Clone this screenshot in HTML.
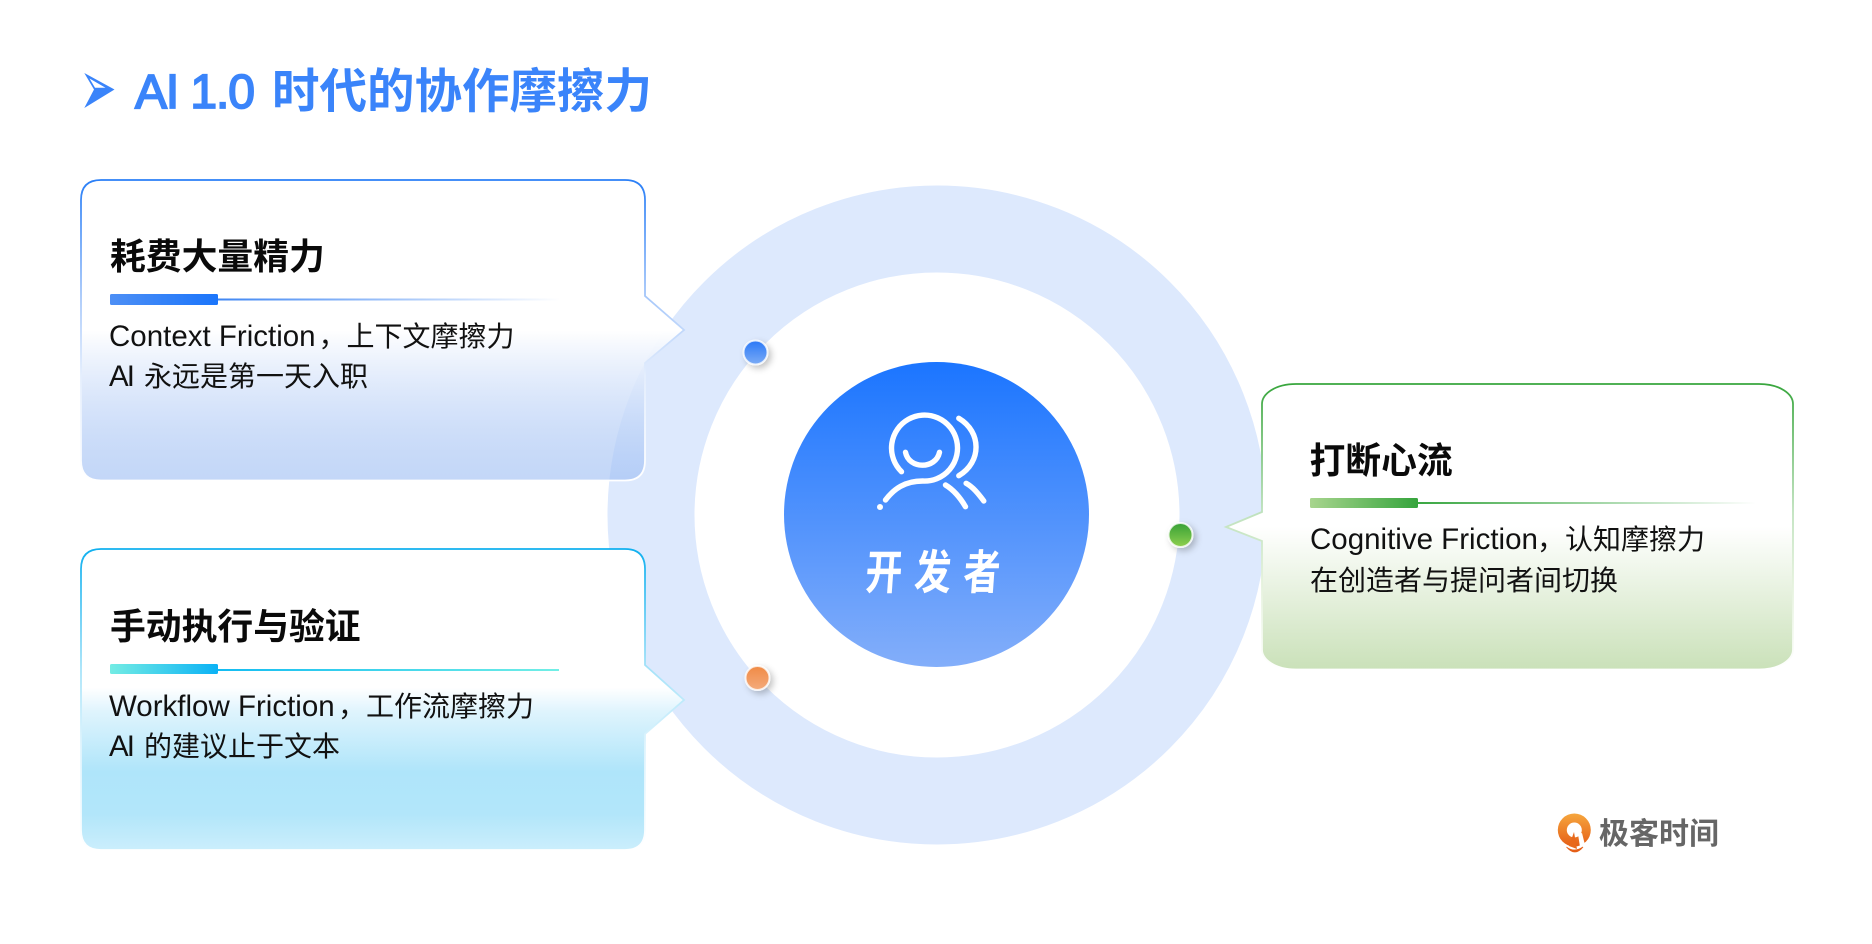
<!DOCTYPE html>
<html><head><meta charset="utf-8"><style>
html,body{margin:0;padding:0;background:#fff;width:1872px;height:944px;overflow:hidden}
svg{display:block}
text{white-space:pre}
.t{font-family:"Noto Sans CJK SC",sans-serif;font-weight:700;font-size:35.8px;fill:#0a0a0a}
.b{font-family:"Noto Sans CJK SC",sans-serif;font-size:28px;fill:#111}
.l{font-family:"Liberation Sans",sans-serif;font-size:29.5px;fill:#111}
</style></head><body>
<svg width="1872" height="944" viewBox="0 0 1872 944" xmlns="http://www.w3.org/2000/svg">
<defs>
<linearGradient id="f1" x1="0" y1="0" x2="0" y2="1"><stop offset="0.5" stop-color="#fff"/><stop offset="1" stop-color="#9bbcf3" stop-opacity=".6"/></linearGradient>
<linearGradient id="f2" x1="0" y1="0" x2="0" y2="1"><stop offset="0.46" stop-color="#fff"/><stop offset="0.54" stop-color="#dff4fd"/><stop offset="0.74" stop-color="#afe5fa"/><stop offset="0.88" stop-color="#b2e6fa"/><stop offset="1" stop-color="#cbeefc"/></linearGradient>
<linearGradient id="f3" x1="0" y1="0" x2="0" y2="1"><stop offset="0.5" stop-color="#fff"/><stop offset="1" stop-color="#cae1b9"/></linearGradient>
<linearGradient id="s1" x1="0" y1="0" x2="0" y2="1"><stop offset="0" stop-color="#2a7ff7"/><stop offset="0.4" stop-color="#a9c9fa"/><stop offset="0.65" stop-color="#e4eefd"/><stop offset="1" stop-color="#fff"/></linearGradient>
<linearGradient id="s2" x1="0" y1="0" x2="0" y2="1"><stop offset="0" stop-color="#10b0ef"/><stop offset="0.4" stop-color="#a6e3f9"/><stop offset="0.65" stop-color="#dff4fd"/><stop offset="1" stop-color="#fff"/></linearGradient>
<linearGradient id="s3" x1="0" y1="0" x2="0" y2="1"><stop offset="0" stop-color="#38a63d"/><stop offset="0.45" stop-color="#bfe2bd"/><stop offset="0.7" stop-color="#e5f2dd"/><stop offset="1" stop-color="#fff"/></linearGradient>
<linearGradient id="c" x1="0" y1="0" x2="0" y2="1"><stop offset="0" stop-color="#1b75ff"/><stop offset="1" stop-color="#83aefa"/></linearGradient>
<linearGradient id="b1" x1="0" y1="0" x2="1" y2="0"><stop offset="0" stop-color="#4d8ff5"/><stop offset="1" stop-color="#1b75fb"/></linearGradient>
<linearGradient id="l1" x1="0" y1="0" x2="1" y2="0"><stop offset="0" stop-color="#3f86f3"/><stop offset="1" stop-color="#3f86f3" stop-opacity="0"/></linearGradient>
<linearGradient id="b2" x1="0" y1="0" x2="1" y2="0"><stop offset="0" stop-color="#73ece4"/><stop offset="1" stop-color="#0bb2f5"/></linearGradient>
<linearGradient id="l2" x1="0" y1="0" x2="1" y2="0"><stop offset="0" stop-color="#13bcf2"/><stop offset="1" stop-color="#72efe6"/></linearGradient>
<linearGradient id="b3" x1="0" y1="0" x2="1" y2="0"><stop offset="0" stop-color="#a8d58e"/><stop offset="1" stop-color="#35a43c"/></linearGradient>
<linearGradient id="l3" x1="0" y1="0" x2="1" y2="0"><stop offset="0" stop-color="#3aa742"/><stop offset="1" stop-color="#3aa742" stop-opacity="0"/></linearGradient>
<linearGradient id="d1" x1="0" y1="0" x2="0" y2="1"><stop offset="0" stop-color="#2a78f7"/><stop offset="1" stop-color="#7cacf6"/></linearGradient>
<linearGradient id="d2" x1="0" y1="0" x2="0" y2="1"><stop offset="0" stop-color="#f08a45"/><stop offset="1" stop-color="#f4ab7c"/></linearGradient>
<linearGradient id="d3" x1="0" y1="0" x2="0" y2="1"><stop offset="0" stop-color="#36a036"/><stop offset="1" stop-color="#8fd04f"/></linearGradient>
<linearGradient id="o" x1="0" y1="0" x2="0" y2="1"><stop offset="0" stop-color="#f6a63e"/><stop offset="1" stop-color="#e55f17"/></linearGradient>
<filter id="sh" x="-80%" y="-80%" width="260%" height="260%"><feDropShadow dx="3" dy="3" stdDeviation="3.5" flood-color="#000" flood-opacity=".24"/></filter>
</defs>

<!-- ring -->
<circle cx="937" cy="515" r="286" fill="none" stroke="#dde9fd" stroke-width="87"/>
<circle cx="936.5" cy="514.5" r="152.5" fill="url(#c)"/>

<!-- title -->
<path d="M84.3 73L114.5 89.5L84.3 108L94 89.5Z" fill="#3a84fa"/>
<path d="M89.5 78.5L105.5 87.8L95 87.8Z" fill="#fff"/>
<text x="135" y="108" font-family="Liberation Sans,sans-serif" font-size="48" fill="#3a84fa" stroke="#3a84fa" stroke-width="1.8" textLength="120" lengthAdjust="spacing">AI 1.0</text>
<text x="272" y="108" font-family="Noto Sans CJK SC,sans-serif" font-weight="700" font-size="47.5" fill="#3a84fa">时代的协作摩擦力</text>

<!-- card 1 -->
<path d="M101 180H625Q645 180 645 200V296L684 330L645 363V460.500Q645 480.500 625 480.500H101Q81 480.500 81 460.500V200Q81 180 101 180Z" fill="url(#f1)" stroke="url(#s1)" stroke-width="1.8"/>
<text class="t" x="110" y="269">耗费大量精力</text>
<rect x="110" y="294" width="108" height="11" rx="1.5" fill="url(#b1)"/>
<rect x="218" y="298.5" width="342" height="2" fill="url(#l1)"/>
<text class="l" x="109" y="346">Context Friction</text>
<text class="b" x="318.500" y="346">，上下文摩擦力</text>
<text class="l" x="109" y="386" textLength="26" lengthAdjust="spacing">AI</text>
<text class="b" x="144" y="386">永远是第一天入职</text>

<!-- card 2 -->
<path d="M101 549H625Q645 549 645 569V665L684 700L645 734V830Q645 850 625 850H101Q81 850 81 830V569Q81 549 101 549Z" fill="url(#f2)" stroke="url(#s2)" stroke-width="1.8"/>
<text class="t" x="110" y="639">手动执行与验证</text>
<rect x="110" y="664" width="108" height="10" rx="1.5" fill="url(#b2)"/>
<rect x="218" y="669" width="341" height="2" fill="url(#l2)"/>
<text class="l" x="109" y="716">Workflow Friction</text>
<text class="b" x="338" y="716">，工作流摩擦力</text>
<text class="l" x="109" y="756" textLength="26" lengthAdjust="spacing">AI</text>
<text class="b" x="144" y="756">的建议止于文本</text>

<!-- card 3 -->
<path d="M1296 384H1759C1780 384 1793 394 1793 404V649.500C1793 659.500 1780 669.500 1759 669.500H1296C1275 669.500 1262 659.500 1262 649.500V541L1226 527L1262 512V404C1262 394 1275 384 1296 384Z" fill="url(#f3)" stroke="url(#s3)" stroke-width="1.8"/>
<text class="t" x="1309.5" y="473">打断心流</text>
<rect x="1310" y="498" width="108" height="10" rx="1.5" fill="url(#b3)"/>
<rect x="1418" y="502" width="338" height="2" fill="url(#l3)"/>
<text class="l" x="1310" y="549">Cognitive Friction</text>
<text class="b" x="1537" y="549">，认知摩擦力</text>
<text class="b" x="1310" y="590">在创造者与提问者间切换</text>

<!-- dots -->
<circle cx="755.5" cy="352.5" r="12" fill="url(#d1)" stroke="#fff" stroke-opacity=".8" stroke-width="2" filter="url(#sh)"/>
<circle cx="757.5" cy="678" r="12" fill="url(#d2)" stroke="#fff" stroke-opacity=".8" stroke-width="2" filter="url(#sh)"/>
<circle cx="1180.5" cy="535" r="12" fill="url(#d3)" stroke="#fff" stroke-opacity=".8" stroke-width="2" filter="url(#sh)"/>

<!-- icon -->
<g fill="none" stroke="#fff" stroke-width="5.4" stroke-linecap="round" transform="translate(-1.2,0)">
<path d="M902.7 471.7A33 33 0 1 1 923.8 481C906 481 895 489 886.7 500"/>
<path d="M906.7 452.3C910 469.5 937 469.5 940.7 452.3"/>
<path d="M960 418.3C983 432 983 462 960 475.7"/>
<path d="M946.7 485C955 490 961 497 966.7 506.7"/>
<path d="M967.3 483.3C974 487 979 493 985 501"/>
</g>
<circle cx="880" cy="507" r="3" fill="#fff"/>
<text transform="translate(864.5,589) skewX(-4) scale(.78,1)" font-family="Noto Sans CJK SC,sans-serif" font-weight="700" font-size="47" fill="#fff" letter-spacing="15.8">开发者</text>

<!-- logo -->
<circle cx="1574.3" cy="830" r="16.5" fill="url(#o)"/>
<circle cx="1574.3" cy="830" r="7.5" fill="#fff"/>
<path d="M1578 834L1582 833L1585 845L1580 847Z" fill="#fff"/>
<path d="M1574 832L1569 846L1577 849Z" fill="#e8691c"/>
<path d="M1566.500 847Q1574 853 1583 847Q1575 857 1566.500 847Z" fill="#e55f17" stroke="#e55f17" stroke-width=".8"/>
<text x="1599" y="844" font-family="Noto Sans CJK SC,sans-serif" font-weight="700" font-size="30" fill="#666">极客时间</text>
</svg>
</body></html>
